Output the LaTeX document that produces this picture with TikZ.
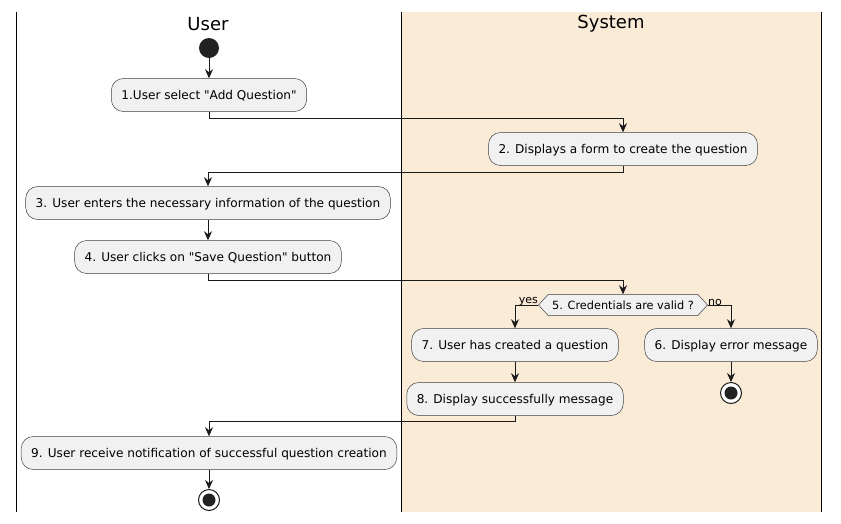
\documentclass[tikz,border=0pt]{standalone}
\usepackage{fontspec}
\setmainfont{DejaVu Sans}[Ligatures=TeXOff]
\usetikzlibrary{arrows.meta,shapes.symbols}
\definecolor{lanefill}{HTML}{FAEBD7}
\definecolor{boxfill}{HTML}{F1F1F1}
\definecolor{dotfill}{HTML}{222222}
\tikzset{
  action/.style={draw=black!75,line width=0.5pt,fill=boxfill,rounded corners=12pt,
    minimum height=33pt,inner xsep=10pt,font=\fontsize{12.1}{14}\selectfont,
    text height=9pt,text depth=1pt},
  check/.style={draw=black!75,line width=0.5pt,fill=boxfill,shape=signal,
    signal to=west and east,signal pointer angle=95,minimum height=21pt,
    inner xsep=4pt,font=\fontsize{11.3}{13}\selectfont},
  flow/.style={-{Stealth[length=9pt,width=8pt,inset=3pt]},line width=0.7pt,black!90},
  guard/.style={font=\fontsize{11}{12}\selectfont,inner sep=0pt},
  lane/.style={line width=1pt,black}
}
\begin{document}
\begin{tikzpicture}[x=1pt,y=-1pt]
  \useasboundingbox (0,0) rectangle (841,523);
  % swimlanes
  \fill[lanefill] (401,12) rectangle (821,512);
  \draw[lane] (16,12) -- (16,512);
  \draw[lane] (401,12) -- (401,512);
  \draw[lane] (821,12) -- (821,512);
  \node[font=\fontsize{18}{20}\selectfont] (user) at (208,24) {User};
  \node[font=\fontsize{18}{20}\selectfont] (system) at (611,24) {System};

  \node[circle,fill=dotfill,minimum size=20pt,inner sep=0pt] (start) at (209,48) {};
  \node[action] (a1) at (209,95) {1.User select "Add Question"};
  \node[action] (a2) at (623,149) {2. Displays a form to create the question};
  \node[action] (a3) at (208,203) {3. User enters the necessary information of the question};
  \node[action] (a4) at (208,257) {4. User clicks on "Save Question" button};
  \node[check] (c5) at (623,305) {5. Credentials are valid ?};
  \node[action] (a7) at (515,345) {7. User has created a question};
  \node[action] (a6) at (731,345) {6. Display error message};
  \node[action] (a8) at (515,399) {8. Display successfully message};
  \node[action] (a9) at (209,453) {9. User receive notification of successful question creation};
  \node[circle,draw=black!90,fill=white,line width=1pt,minimum size=21pt,inner sep=0pt] (stopB) at (731,393) {};
  \node[circle,fill=dotfill,minimum size=13pt,inner sep=0pt] at (stopB) {};
  \node[circle,draw=black!90,fill=white,line width=1pt,minimum size=21pt,inner sep=0pt] (stopA) at (209,500) {};
  \node[circle,fill=dotfill,minimum size=13pt,inner sep=0pt] at (stopA) {};

  \draw[flow] (start) -- (a1);
  \draw[flow] (a1.south) -- ++(0,7) -| (a2.north);
  \draw[flow] (a2.south) -- ++(0,7) -| (a3.north);
  \draw[flow] (a3) -- (a4);
  \draw[flow] (a4.south) -- ++(0,7) -| (c5.north);
  \draw[flow] (c5.west) -| (a7.north);
  \draw[flow] (c5.east) -| (a6.north);
  \node[guard,anchor=south east] (yes) at ([yshift=-1pt]c5.west) {yes};
  \node[guard,anchor=south west] (no) at ([yshift=-1pt]c5.east) {no};
  \draw[flow] (a7) -- (a8);
  \draw[flow] (a6) -- (stopB);
  \draw[flow] (a8.south) -- ++(0,6) -| (a9.north);
  \draw[flow] (a9) -- (stopA);
\end{tikzpicture}
\end{document}
